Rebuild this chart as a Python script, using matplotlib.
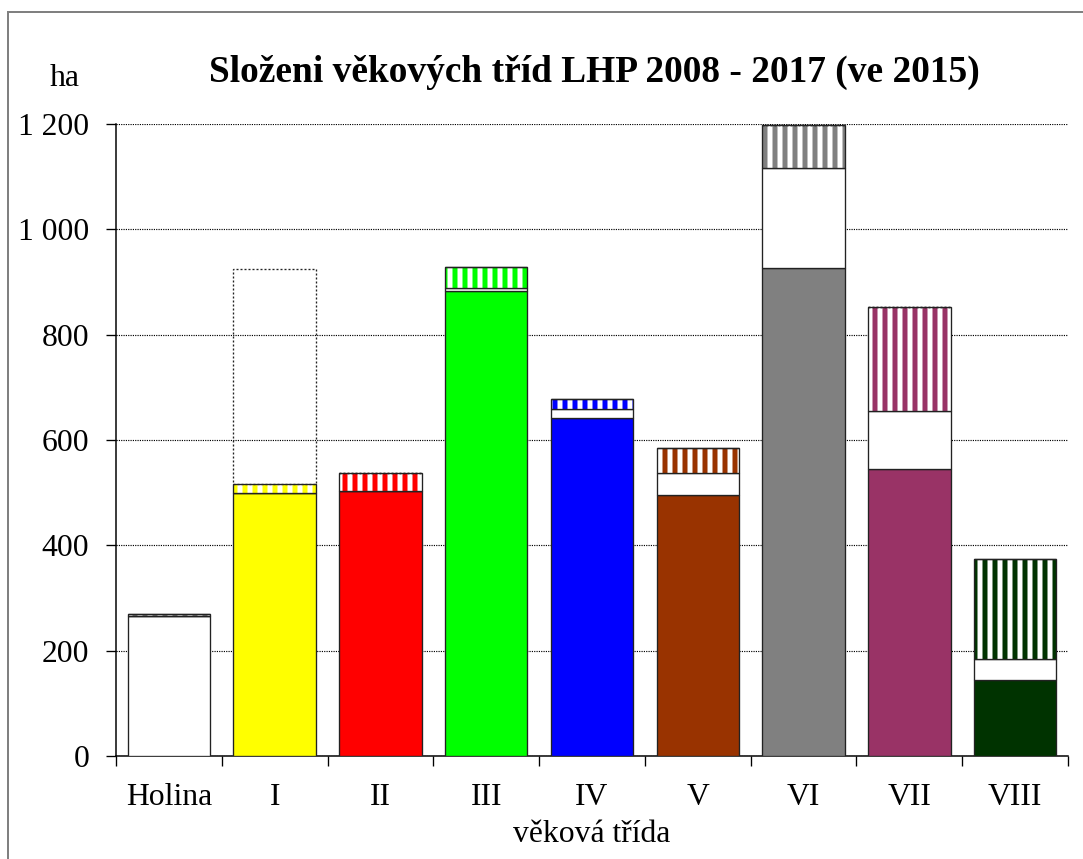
import numpy as np
import matplotlib
matplotlib.use('Agg')
from matplotlib import pyplot as plt
from matplotlib.ticker import FuncFormatter
from matplotlib.lines import Line2D

# data (ha)
categories = ['Holina', 'I', 'II', 'III', 'IV', 'V', 'VI', 'VII', 'VIII']
base = [266, 500, 503, 883, 642, 495, 926, 545, 144]
white = [0, 0, 0, 6, 16, 43, 191, 110, 41]
hatched = [3, 17, 35, 39, 19, 46, 82, 197, 189]
extra = [0, 408, 0, 0, 0, 0, 0, 0, 0]

colors = ['#ffffff', '#ffff00', '#ff0000', '#00ff00', '#0000ff',
          '#993300', '#808080', '#993366', '#003300']
hatch_colors = ['#808080'] + colors[1:]

plt.rcParams['font.family'] = ['Liberation Serif', 'DejaVu Serif']
plt.rcParams['hatch.linewidth'] = 3.0

W, H, DPI = 1083, 859, 120
fig = plt.figure(figsize=(W / DPI, H / DPI), dpi=DPI)
ax = fig.add_axes([116 / W, 1 - 756 / H, (1068 - 116) / W, (756 - 124) / H])

x = np.arange(len(categories))
bw = 0.78
base = np.array(base); white = np.array(white)
hatched = np.array(hatched); extra = np.array(extra)

ax.bar(x, base, bw, color=colors, edgecolor='#222222', lw=0.8, zorder=3)
ax.bar(x, white, bw, bottom=base, color='white', edgecolor='#222222',
       lw=0.8, zorder=3)
b2 = base + white
# hatched part: stripes first, outline on top
for i in range(len(x)):
    ax.bar(x[i], hatched[i], bw, bottom=b2[i], color='white',
           edgecolor=hatch_colors[i], hatch='||', lw=0, zorder=3)
ax.bar(x, hatched, bw, bottom=b2, fill=False, edgecolor='#222222',
       lw=0.8, zorder=4)
b3 = b2 + hatched
ax.bar(x, extra, bw, bottom=b3, fill=False, edgecolor='#222222',
       lw=0.8, ls=(0, (1.5, 1.5)), zorder=4)

ax.set_xlim(-0.5, len(categories) - 0.5)
ax.set_ylim(0, 1200)
ax.set_yticks(np.arange(0, 1201, 200))
ax.yaxis.set_major_formatter(FuncFormatter(lambda v, p: f'{int(v):,}'.replace(',', ' ')))
ax.yaxis.grid(True, color='black', ls=(0, (1, 1)), lw=0.7, zorder=0)
ax.set_axisbelow(True)

ax.set_xticks(x)
ax.set_xticklabels(categories)
ax.set_xticks(np.arange(-0.5, len(categories)), minor=True)
ax.tick_params(axis='x', which='major', length=0, labelsize=19, pad=16)
ax.tick_params(axis='x', which='minor', length=6, width=0.8, direction='out')
ax.tick_params(axis='y', length=6, width=0.8, labelsize=19, pad=10)

for s in ['top', 'right']:
    ax.spines[s].set_visible(False)
for s in ['left', 'bottom']:
    ax.spines[s].set_linewidth(0.9)

ax.set_xlabel('věková třída', fontsize=19, labelpad=5)
fig.text(65 / W, 1 - 78 / H, 'ha', fontsize=19, ha='center', va='center')
fig.text(594 / W, 1 - 72 / H, 'Složeni věkových tříd LHP 2008 - 2017 (ve 2015)',
         fontsize=22.4, fontweight='bold', ha='center', va='center')

# outer frame (cropped at right and bottom)
fig.add_artist(Line2D([8 / W, 1], [1 - 12 / H, 1 - 12 / H],
                      transform=fig.transFigure, color='#808080', lw=1.2))
fig.add_artist(Line2D([8 / W, 8 / W], [0, 1 - 12 / H],
                      transform=fig.transFigure, color='#808080', lw=1.2))

fig.savefig('out.png', dpi=DPI)
